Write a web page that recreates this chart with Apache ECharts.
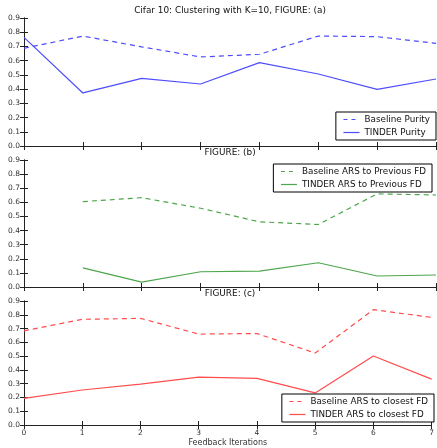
<!DOCTYPE html>
<html>
<head>
<meta charset="utf-8">
<script src="https://cdn.jsdelivr.net/npm/echarts@6/dist/echarts.min.js"></script>
<style>
html,body{margin:0;padding:0;background:#fff;}
#chart{width:437px;height:448px;}
</style>
</head>
<body>
<div id="chart"></div>
<script>
const iterations = [0, 1, 2, 3, 4, 5, 6, 7];
const yTicks = [0.0, 0.1, 0.2, 0.3, 0.4, 0.5, 0.6, 0.7, 0.8, 0.9];

const baselinePurity = [0.687, 0.773, 0.697, 0.626, 0.645, 0.773, 0.769, 0.722];
const tinderPurity   = [0.764, 0.373, 0.476, 0.436, 0.586, 0.506, 0.398, 0.471];

// panel (b) starts at iteration 1
const prevIterations   = [1, 2, 3, 4, 5, 6, 7];
const baselineArsPrev  = [0.605, 0.633, 0.558, 0.462, 0.443, 0.660, 0.652];
const tinderArsPrev    = [0.136, 0.035, 0.108, 0.113, 0.172, 0.078, 0.085];

const baselineArsClosest = [0.683, 0.767, 0.774, 0.660, 0.664, 0.522, 0.837, 0.781];
const tinderArsClosest   = [0.193, 0.254, 0.296, 0.347, 0.338, 0.233, 0.501, 0.333];

const titles = ['Cifar 10: Clustering with K=10, FIGURE: (a)', 'FIGURE: (b)', 'FIGURE: (c)'];
const xName = 'Feedback Iterations';

const BLUE = '#4d4dff', GREEN = '#4da64d', RED = '#ff4d4d';
const DASH = [5, 4];
const pair = (xs, ys) => xs.map((x, i) => [x, ys[i]]);

const grids = [
  {left: 24, right: 1, top: 18, height: 128},
  {left: 24, right: 1, top: 160, height: 127},
  {left: 24, right: 1, top: 301, height: 128}
];
const tickStyle = {show: true, inside: true, length: 4, lineStyle: {color: '#222', width: 1}};
const lineAx = {show: true, lineStyle: {color: '#222', width: 1}};
const labelFont = {fontFamily: 'DejaVu Sans', fontSize: 7.5, color: '#333'};

const xAxes = [], yAxes = [];
grids.forEach((g, i) => {
  const last = i === 2;
  xAxes.push({
    type: 'value', gridIndex: i, min: 0, max: 7, interval: 1, position: 'bottom',
    axisLine: lineAx, axisTick: tickStyle, splitLine: {show: false},
    axisLabel: Object.assign({show: last, margin: 4, formatter: v => String(v)}, labelFont),
    name: last ? xName : '', nameLocation: 'middle', nameGap: 14,
    nameTextStyle: {fontFamily: 'DejaVu Sans', fontSize: 8, color: '#333'}
  });
  xAxes.push({
    type: 'value', gridIndex: i, min: 0, max: 7, interval: 1, position: 'top',
    axisLine: lineAx, axisTick: tickStyle, splitLine: {show: false}, axisLabel: {show: false}
  });
  yAxes.push({
    type: 'value', gridIndex: i, min: yTicks[0], max: yTicks[yTicks.length - 1], interval: 0.1,
    position: 'left', axisLine: lineAx, axisTick: tickStyle, splitLine: {show: false},
    axisLabel: Object.assign({margin: 4, formatter: v => v.toFixed(1)}, labelFont)
  });
  yAxes.push({
    type: 'value', gridIndex: i, min: 0, max: 0.9, interval: 0.1, position: 'right',
    axisLine: lineAx, axisTick: tickStyle, splitLine: {show: false}, axisLabel: {show: false}
  });
});

function ser(name, data, color, dashed, gi) {
  return {
    name, type: 'line', data, xAxisIndex: gi * 2, yAxisIndex: gi * 2,
    symbol: 'none', animation: false, silent: true,
    lineStyle: {color, width: 1.2, type: dashed ? DASH : 'solid'},
    itemStyle: {color}
  };
}

const series = [
  ser('Baseline Purity', pair(iterations, baselinePurity), BLUE, true, 0),
  ser('TINDER Purity', pair(iterations, tinderPurity), BLUE, false, 0),
  ser('Baseline ARS to Previous FD', pair(prevIterations, baselineArsPrev), GREEN, true, 1),
  ser('TINDER ARS to Previous FD', pair(prevIterations, tinderArsPrev), GREEN, false, 1),
  ser('Baseline ARS to closest FD', pair(iterations, baselineArsClosest), RED, true, 2),
  ser('TINDER ARS to closest FD', pair(iterations, tinderArsClosest), RED, false, 2)
];

function legend(names, color, right, top) {
  return {
    data: names.map((n, k) => ({
      name: n,
      itemStyle: {opacity: 0},
      lineStyle: {color, width: 1.2, type: k === 0 ? [4, 4] : 'solid'}
    })),
    orient: 'vertical', right, top,
    backgroundColor: '#fff', borderColor: '#000', borderWidth: 1, borderRadius: 0,
    padding: [3, 6, 3, 7], itemWidth: 16, itemHeight: 10, itemGap: 4,
    textStyle: {fontFamily: 'DejaVu Sans', fontSize: 8.8, color: '#111'},
    selectedMode: false
  };
}

const chart = echarts.init(document.getElementById('chart'));
chart.setOption({
  backgroundColor: '#fff',
  animation: false,
  title: [
    {text: titles[0], left: 230, top: 6, textAlign: 'center'},
    {text: titles[1], left: 230, top: 148, textAlign: 'center'},
    {text: titles[2], left: 230, top: 289, textAlign: 'center'}
  ].map(t => Object.assign(t, {padding: 0, textStyle: {fontFamily: 'DejaVu Sans', fontSize: 8.9, fontWeight: 'normal', color: '#111'}})),
  legend: [
    legend(['Baseline Purity', 'TINDER Purity'], BLUE, 1, 112),
    legend(['Baseline ARS to Previous FD', 'TINDER ARS to Previous FD'], GREEN, 5, 164),
    legend(['Baseline ARS to closest FD', 'TINDER ARS to closest FD'], RED, 3, 394)
  ],
  grid: grids,
  xAxis: xAxes,
  yAxis: yAxes,
  series
});
</script>
</body>
</html>
